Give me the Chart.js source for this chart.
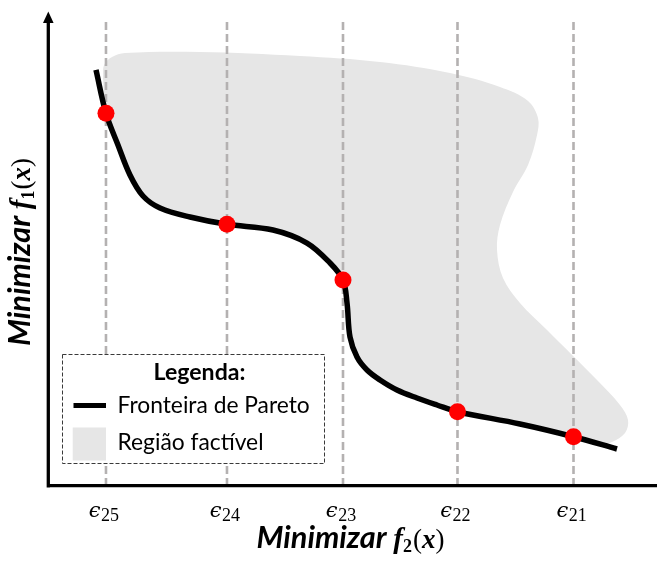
<!DOCTYPE html>
<html>
<head>
<meta charset="utf-8">
<script src="https://cdn.jsdelivr.net/npm/chart.js@4.4.1/dist/chart.umd.min.js"></script>
<style>
  html, body { margin: 0; padding: 0; background: #ffffff; }
  #wrap { width: 657px; height: 565px; }
</style>
</head>
<body>
<div id="wrap"><canvas id="c" width="657" height="565"></canvas></div>
<script>
// Epsilon-constraint levels placed on f2 (left to right) and their subscripts
const epsLabels = ['25', '24', '23', '22', '21'];
const epsLevels = [9.52, 29.39, 48.44, 67.24, 86.29];
const epsLineTop = 98.3;

// Pareto front, f2 (horizontal) against f1 (vertical)
const frontF2 = [7.88, 9.52, 11.49, 13.46, 15.60, 18.39, 23.32, 29.39, 36.95, 42.53, 46.31, 48.44,
                 49.10, 49.59, 50.74, 52.38, 54.52, 57.31, 60.59, 63.87, 67.24, 77.50, 86.29, 93.43];
const frontF1 = [88.14, 78.96, 72.25, 65.89, 61.44, 58.90, 56.99, 55.44, 54.24, 51.48, 47.25, 43.64,
                 38.77, 31.57, 27.33, 24.58, 22.46, 20.34, 18.64, 17.16, 15.74, 13.14, 10.44, 7.84];

// Optimal solution found for each epsilon level
const solF2 = [9.52, 29.39, 48.44, 67.24, 86.29];
const solF1 = [78.96, 55.44, 43.64, 15.74, 10.44];

// Outer boundary of the feasible region (top and right side, clockwise)
const regionF2 = [9.03, 9.20, 10.51, 12.64, 24.96, 41.38, 54.52, 66.01, 74.22, 78.82, 80.46, 80.30,
                  78.82, 76.35, 74.22, 73.73, 74.71, 77.50, 81.94, 90.15, 93.92, 95.24, 94.75, 92.61, 90.64];
const regionF1 = [86.44, 89.19, 90.89, 91.74, 91.95, 91.10, 89.83, 87.50, 84.53, 81.57, 77.97, 74.36,
                  68.01, 62.29, 55.30, 50.00, 44.07, 38.77, 33.05, 22.46, 17.16, 13.98, 11.23, 9.32, 8.90];

const legendTitle = 'Legenda:';
const legendFront = 'Fronteira de Pareto';
const legendRegion = 'Região factível';
const axisWord = 'Minimizar';

const toPts = (xs, ys) => xs.map((x, i) => ({ x: x, y: ys[i] }));

// Closed outline: outer boundary, then back along the front (its lower edge)
const regionPts = toPts(regionF2, regionF1);
const frontPts = toPts(frontF2, frontF1);
for (let i = frontPts.length - 2; i >= 1; i--) regionPts.push(frontPts[i]);
regionPts.push(regionPts[0]);

const epsSets = epsLevels.map(v => ({
  data: [{ x: v, y: 0 }, { x: v, y: epsLineTop }],
  showLine: true,
  borderColor: '#b4b1b1',
  borderWidth: 2.6,
  borderDash: [8, 4],
  pointRadius: 0,
  clip: false
}));

const SERIF = '"Liberation Serif", "DejaVu Serif", serif';
const SANS = 'Lato, "Open Sans", sans-serif';

function fitSize(ctx, text, style, family, width) {
  ctx.font = style + ' 20px ' + family;
  return 20 * width / ctx.measureText(text).width;
}

// Draws consecutive text runs centred on (cx, baseline)
function drawRuns(ctx, runs, cx, base) {
  let total = 0;
  runs.forEach(r => { ctx.font = r.font; r.w = ctx.measureText(r.text).width; total += r.w + (r.gap || 0); });
  let x = cx - total / 2;
  ctx.textAlign = 'left';
  ctx.textBaseline = 'alphabetic';
  runs.forEach(r => {
    ctx.font = r.font;
    ctx.fillText(r.text, x, base + (r.dy || 0));
    x += r.w + (r.gap || 0);
  });
}

function axisTitleRuns(ctx, sub) {
  const s = fitSize(ctx, axisWord, 'italic bold', SANS, 130);
  return [
    { text: axisWord + ' ', font: 'italic bold ' + s.toFixed(1) + 'px ' + SANS },
    { text: 'f', font: 'italic bold 29px ' + SERIF, gap: 0 },
    { text: sub, font: 'bold 18px ' + SERIF, dy: 4, gap: 1 },
    { text: '(', font: '27px ' + SERIF },
    { text: 'x', font: 'italic bold 27px ' + SERIF },
    { text: ')', font: '27px ' + SERIF }
  ];
}

const decor = {
  id: 'decor',
  afterDatasetsDraw(chart) {
    const ctx = chart.ctx;
    const a = chart.chartArea;
    const xs = chart.scales.x;
    ctx.save();

    // axes with arrow on the vertical one
    ctx.strokeStyle = '#000';
    ctx.fillStyle = '#000';
    ctx.lineWidth = 3.3;
    ctx.beginPath();
    ctx.moveTo(a.left + 0.3, a.bottom + 1.5);
    ctx.lineTo(a.left + 0.3, 21);
    ctx.moveTo(a.left - 1.3, a.bottom - 0.3);
    ctx.lineTo(a.right, a.bottom - 0.3);
    ctx.stroke();
    ctx.beginPath();
    ctx.moveTo(a.left + 0.3, 11.5);
    ctx.lineTo(a.left - 5, 23);
    ctx.lineTo(a.left + 5.6, 23);
    ctx.closePath();
    ctx.fill();

    // legend box
    const lx = 62.5, ly = 354.5, lw = 262, lh = 109;
    ctx.fillStyle = '#ffffff';
    ctx.fillRect(lx, ly, lw, lh);
    ctx.setLineDash([4, 2]);
    ctx.lineWidth = 1;
    ctx.strokeStyle = '#3a3a3a';
    ctx.strokeRect(lx, ly, lw, lh);
    ctx.setLineDash([]);

    ctx.fillStyle = '#000';
    ctx.textBaseline = 'alphabetic';
    const ts = fitSize(ctx, legendTitle, 'bold', SANS, 92);
    ctx.font = 'bold ' + ts.toFixed(1) + 'px ' + SANS;
    ctx.textAlign = 'center';
    ctx.fillText(legendTitle, 199.5, 379.5);

    ctx.lineWidth = 5;
    ctx.strokeStyle = '#000';
    ctx.beginPath();
    ctx.moveTo(73.5, 405.5);
    ctx.lineTo(106, 405.5);
    ctx.stroke();
    ctx.fillStyle = '#e6e6e6';
    ctx.fillRect(72.7, 427.5, 33.3, 33);

    ctx.fillStyle = '#000';
    ctx.textAlign = 'left';
    const fs = fitSize(ctx, legendFront, '', SANS, 192);
    ctx.font = fs.toFixed(1) + 'px ' + SANS;
    ctx.fillText(legendFront, 117.5, 412.5);
    ctx.fillText(legendRegion, 117.5, 449.5);

    // epsilon tick labels
    epsLevels.forEach((v, i) => {
      const cx = xs.getPixelForValue(v) - 2;
      drawRuns(ctx, [
        { text: '\u03F5', font: 'italic 21px "DejaVu Serif", serif', gap: 0.5 },
        { text: epsLabels[i], font: '18px ' + SERIF, dy: 4 }
      ], cx, 517);
    });

    // axis titles
    drawRuns(ctx, axisTitleRuns(ctx, '2'), 350.5, 547.5);
    ctx.translate(29.5, 252);
    ctx.rotate(-Math.PI / 2);
    drawRuns(ctx, axisTitleRuns(ctx, '1'), 0, 0);
    ctx.restore();
  }
};

new Chart(document.getElementById('c'), {
  type: 'scatter',
  data: {
    datasets: [
      {
        data: toPts(solF2, solF1),
        pointRadius: 8.5,
        pointBackgroundColor: '#ff0000',
        pointBorderWidth: 0,
        showLine: false,
        clip: false
      },
      {
        data: frontPts,
        showLine: true,
        tension: 0.35,
        borderColor: '#000000',
        borderWidth: 5.5,
        borderCapStyle: 'butt',
        pointRadius: 0,
        clip: false
      },
      ...epsSets,
      {
        data: regionPts,
        showLine: true,
        tension: 0.35,
        fill: 'shape',
        backgroundColor: '#e6e6e6',
        borderColor: 'rgba(0,0,0,0)',
        borderWidth: 0,
        pointRadius: 0,
        clip: false
      }
    ]
  },
  options: {
    responsive: false,
    animation: false,
    devicePixelRatio: 1,
    layout: { autoPadding: false, padding: { left: 48, right: 0, top: 14, bottom: 79 } },
    scales: {
      x: { type: 'linear', min: 0, max: 100, display: false },
      y: { type: 'linear', min: 0, max: 100, display: false }
    },
    plugins: {
      legend: { display: false },
      tooltip: { enabled: false }
    },
    events: []
  },
  plugins: [decor]
});
</script>
</body>
</html>
